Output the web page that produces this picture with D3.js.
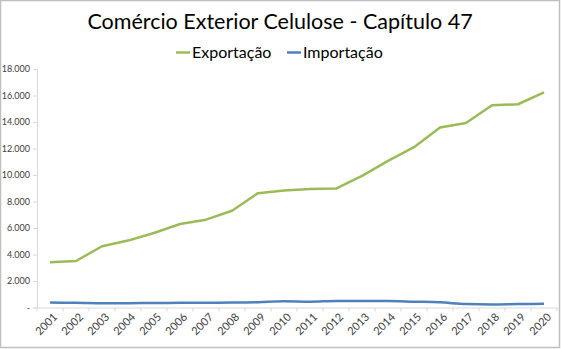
<!DOCTYPE html>
<html><head><meta charset="utf-8">
<script src="https://cdn.jsdelivr.net/npm/d3@7"></script>
<style>
html,body{margin:0;padding:0;background:#fff;}
svg{display:block;font-family:Lato,"Open Sans",sans-serif;}
</style></head>
<body>
<svg id="chart" width="561" height="349"></svg>
<script>
const years = ["2001","2002","2003","2004","2005","2006","2007","2008","2009","2010","2011","2012","2013","2014","2015","2016","2017","2018","2019","2020"];
const exportacao = [3410,3510,4620,5050,5620,6300,6630,7300,8630,8830,8940,8980,9940,11070,12100,13580,13930,15260,15340,16240];
const importacao = [370,360,320,330,340,350,360,370,400,470,440,490,490,490,440,390,260,230,260,280];
const yTicks = [0,2000,4000,6000,8000,10000,12000,14000,16000,18000];
const seriesNames = ["Exportação","Importação"];
const colors = ["#9bbb59","#4f81bd"];

(function(){
const svg = d3.select("#chart");
const W = 561, H = 349;
svg.append("rect").attr("x",0.5).attr("y",0.5).attr("width",W-2).attr("height",H-2)
  .attr("fill","#fff").attr("stroke","#bfbfbf").attr("stroke-width",1.5);

const mLeft = 37, mRight = 557, mTop = 69, mBottom = 307.5;
const x = d3.scaleBand().domain(years).range([mLeft,mRight]).padding(0);
const y = d3.scaleLinear().domain([0,18000]).range([mBottom,mTop]);

const fmt = v => v === 0 ? "-" : d3.format(",")(v).replace(/,/g,".");

// y axis
const yAxis = svg.append("g").attr("transform",`translate(${mLeft},0)`)
  .call(d3.axisLeft(y).tickValues(yTicks).tickFormat(fmt).tickSize(4).tickPadding(3));
yAxis.select(".domain").attr("stroke","#d9d9d9");
yAxis.selectAll(".tick line").attr("stroke","#d9d9d9");
yAxis.selectAll(".tick text").attr("fill","#404040").attr("font-size","9px").attr("font-family","Lato,sans-serif");

// x axis
const xAxis = svg.append("g").attr("transform",`translate(0,${mBottom})`)
  .call(d3.axisBottom(x).tickSizeOuter(0).tickSize(0));
xAxis.select(".domain").attr("stroke","#d9d9d9");
xAxis.selectAll(".tick line").remove();
const bounds = years.map(d=>x(d)).concat([mRight]);
xAxis.selectAll("line.bt").data(bounds).enter().append("line").attr("class","bt")
  .attr("x1",d=>d).attr("x2",d=>d).attr("y1",0).attr("y2",4).attr("stroke","#d9d9d9");
xAxis.selectAll(".tick text")
  .attr("fill","#404040").attr("font-size","11px").attr("font-family","Lato,sans-serif")
  .attr("text-anchor","end").attr("dy","0")
  .attr("transform","translate(6,8) rotate(-45)");

// lines
const cx = d => x(d) + x.bandwidth()/2;
const lineG = d3.line().x((d,i)=>cx(years[i])).y(d=>y(d));
const lineB = d3.line().x((d,i)=>cx(years[i])).y(d=>y(d)).curve(d3.curveMonotoneX);
svg.append("path").datum(importacao).attr("d",lineB).attr("fill","none")
  .attr("stroke",colors[1]).attr("stroke-width",2.5).attr("stroke-linejoin","round");
svg.append("path").datum(exportacao).attr("d",lineG).attr("fill","none")
  .attr("stroke",colors[0]).attr("stroke-width",2.5).attr("stroke-linejoin","round");

// title
svg.append("text").attr("x",280).attr("y",29).attr("text-anchor","middle")
  .attr("font-size","21.5px").attr("fill","#000").attr("font-family","Lato,sans-serif")
  .text("Comércio Exterior Celulose - Capítulo 47");

// legend
const leg = [{x:176},{x:287}];
seriesNames.forEach((n,i)=>{
  const g = svg.append("g").attr("transform",`translate(${leg[i].x},52.5)`);
  g.append("line").attr("x1",0).attr("x2",14).attr("y1",0).attr("y2",0)
    .attr("stroke",colors[i]).attr("stroke-width",2.5);
  g.append("text").attr("x",16).attr("y",5.5).attr("font-size","16px").attr("fill","#000")
    .attr("font-family","Lato,sans-serif").text(n);
});
})();
</script>
</body></html>
